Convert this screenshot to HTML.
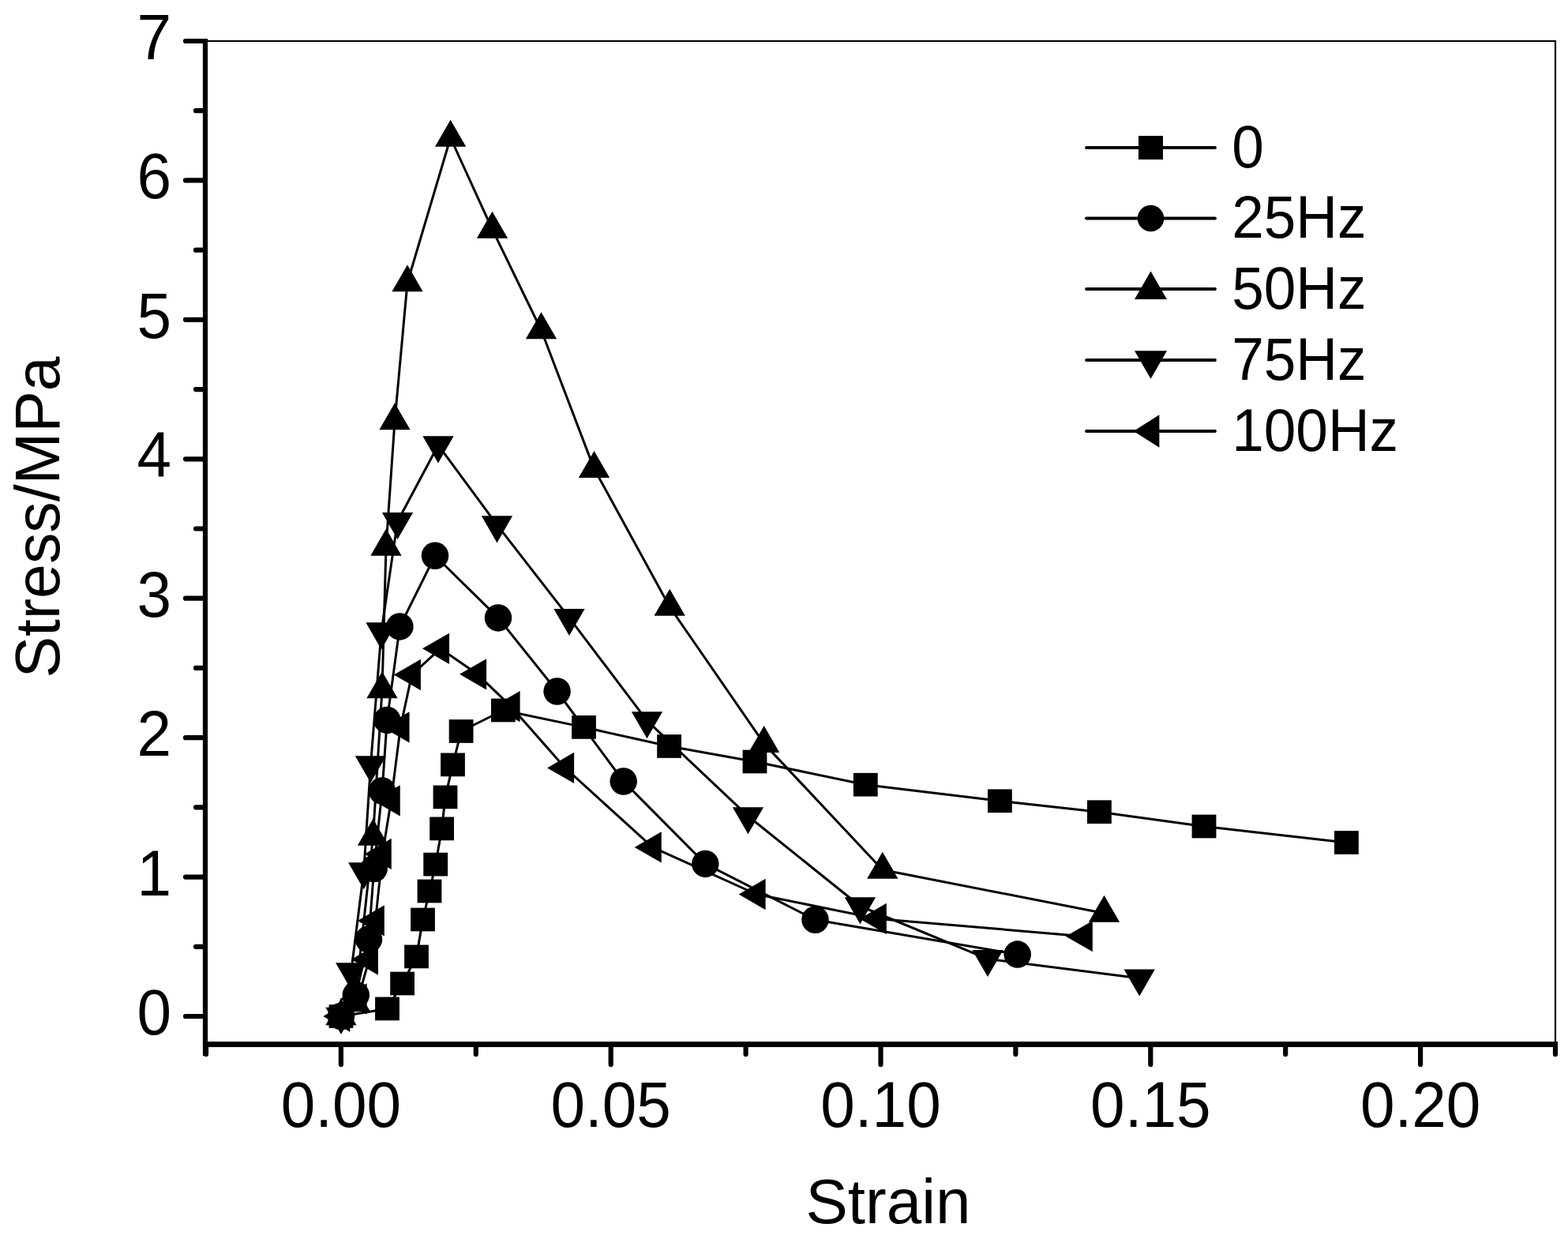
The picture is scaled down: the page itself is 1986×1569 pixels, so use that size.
<!DOCTYPE html>
<html><head><meta charset="utf-8"><title>Stress-Strain</title>
<style>
html,body{margin:0;padding:0;background:#fff;}
body{width:1986px;height:1569px;overflow:hidden;}
svg{display:block;}
text{font-family:"Liberation Sans",Arial,Helvetica,sans-serif;fill:#000;}
.t{font-size:81px;}
.t .s{font-size:80px;}
.l{font-size:76px;}
</style></head>
<body>
<svg width="1986" height="1569" viewBox="0 0 1986 1569">
<rect x="0" y="0" width="1986" height="1569" fill="#fff"/>
<path d="M260 52H1970V1322.5" fill="none" stroke="#000" stroke-width="2.2"/>
<path d="M235 1287H260 M235 1110.57H260 M235 934.14H260 M235 757.71H260 M235 581.29H260 M235 404.86H260 M235 228.43H260 M235 52H260 M248 1198.79H260 M248 1022.36H260 M248 845.93H260 M248 669.5H260 M248 493.07H260 M248 316.64H260 M248 140.21H260 M431.9 1322.5V1348 M773.7 1322.5V1348 M1115.5 1322.5V1348 M1457.3 1322.5V1348 M1799.1 1322.5V1348 M261 1322.5V1335 M602.8 1322.5V1335 M944.6 1322.5V1335 M1286.4 1322.5V1335 M1628.2 1322.5V1335 M1970 1322.5V1335" fill="none" stroke="#000" stroke-width="6.2" stroke-linecap="round"/>
<path d="M260 49V1337M257 1322.5H1973" fill="none" stroke="#000" stroke-width="6.2"/>
<path d="M257 1322.5H1973" fill="none" stroke="#000" stroke-width="7"/>
<path d="M432 1287 L490.5 1277.4 L509.6 1245.5 L527.5 1211.4 L535.5 1164.5 L544 1128.5 L551.7 1094.6 L559.6 1049.4 L564 1009.4 L573.5 968.4 L584.1 926 L637.4 899.5 L739.5 920.9 L847.6 945 L956 964.5 L1096.3 993.7 L1266.4 1014.3 L1392.4 1028.2 L1525 1046.5 L1705.4 1067" fill="none" stroke="#000" stroke-width="3" stroke-linejoin="round"/>
<path d="M432 1287 L450.8 1260 L467 1189.5 L473.7 1100 L484 1001.5 L490.3 911.9 L506.4 793.4 L551 703.7 L631 782.4 L705.6 875.5 L789.7 989.5 L893.3 1093.9 L1032.5 1164.7 L1288.7 1208.6" fill="none" stroke="#000" stroke-width="3" stroke-linejoin="round"/>
<path d="M432 1287 L449.5 1270 L472.5 1059.4 L484 873 L489 692.3 L500 533 L516 358 L570.6 174.5 L623.5 290.4 L685.5 418 L752.5 593.6 L848.2 768.5 L967.7 941.6 L1117.8 1101.5 L1398.5 1156.5" fill="none" stroke="#000" stroke-width="3" stroke-linejoin="round"/>
<path d="M432 1287 L444.75 1230.5 L460.75 1103.5 L469.5 968.5 L483 799.7 L503.5 660.4 L555 563.7 L629.5 664.7 L721 782.4 L819.5 912.6 L947.5 1033.5 L1089.5 1147.5 L1251 1214.4 L1443.2 1238.8" fill="none" stroke="#000" stroke-width="3" stroke-linejoin="round"/>
<path d="M432 1287 L453.3 1264.9 L467.6 1215 L475.5 1165.9 L484.4 1081.4 L495.4 1013.8 L507.2 920.9 L521.6 854.5 L557.7 821.3 L604.8 853.8 L647.3 894.7 L715.8 972.4 L826.4 1072.9 L958.3 1132.5 L1111.5 1163.4 L1372.5 1185.7" fill="none" stroke="#000" stroke-width="3" stroke-linejoin="round"/>
<g><rect x="416.6" y="1272.15" width="30.8" height="29.7"/><rect x="475.1" y="1262.55" width="30.8" height="29.7"/><rect x="494.2" y="1230.65" width="30.8" height="29.7"/><rect x="512.1" y="1196.55" width="30.8" height="29.7"/><rect x="520.1" y="1149.65" width="30.8" height="29.7"/><rect x="528.6" y="1113.65" width="30.8" height="29.7"/><rect x="536.3" y="1079.75" width="30.8" height="29.7"/><rect x="544.2" y="1034.55" width="30.8" height="29.7"/><rect x="548.6" y="994.55" width="30.8" height="29.7"/><rect x="558.1" y="953.55" width="30.8" height="29.7"/><rect x="568.7" y="911.15" width="30.8" height="29.7"/><rect x="622" y="884.65" width="30.8" height="29.7"/><rect x="724.1" y="906.05" width="30.8" height="29.7"/><rect x="832.2" y="930.15" width="30.8" height="29.7"/><rect x="940.6" y="949.65" width="30.8" height="29.7"/><rect x="1080.9" y="978.85" width="30.8" height="29.7"/><rect x="1251" y="999.45" width="30.8" height="29.7"/><rect x="1377" y="1013.35" width="30.8" height="29.7"/><rect x="1509.6" y="1031.65" width="30.8" height="29.7"/><rect x="1690" y="1052.15" width="30.8" height="29.7"/></g>
<g><circle cx="432" cy="1287" r="17.25"/><circle cx="450.8" cy="1260" r="17.25"/><circle cx="467" cy="1189.5" r="17.25"/><circle cx="473.7" cy="1100" r="17.25"/><circle cx="484" cy="1001.5" r="17.25"/><circle cx="490.3" cy="911.9" r="17.25"/><circle cx="506.4" cy="793.4" r="17.25"/><circle cx="551" cy="703.7" r="17.25"/><circle cx="631" cy="782.4" r="17.25"/><circle cx="705.6" cy="875.5" r="17.25"/><circle cx="789.7" cy="989.5" r="17.25"/><circle cx="893.3" cy="1093.9" r="17.25"/><circle cx="1032.5" cy="1164.7" r="17.25"/><circle cx="1288.7" cy="1208.6" r="17.25"/></g>
<g><polygon points="432,1264.31 451.65,1298.34 412.35,1298.34"/><polygon points="449.5,1247.31 469.15,1281.34 429.85,1281.34"/><polygon points="472.5,1036.71 492.15,1070.74 452.85,1070.74"/><polygon points="484,850.31 503.65,884.34 464.35,884.34"/><polygon points="489,669.61 508.65,703.64 469.35,703.64"/><polygon points="500,510.31 519.65,544.34 480.35,544.34"/><polygon points="516,335.31 535.65,369.34 496.35,369.34"/><polygon points="570.6,151.81 590.25,185.84 550.95,185.84"/><polygon points="623.5,267.71 643.15,301.74 603.85,301.74"/><polygon points="685.5,395.31 705.15,429.34 665.85,429.34"/><polygon points="752.5,570.91 772.15,604.94 732.85,604.94"/><polygon points="848.2,745.81 867.85,779.84 828.55,779.84"/><polygon points="967.7,918.91 987.35,952.94 948.05,952.94"/><polygon points="1117.8,1078.81 1137.45,1112.84 1098.15,1112.84"/><polygon points="1398.5,1133.81 1418.15,1167.84 1378.85,1167.84"/></g>
<g><polygon points="432,1309.69 451.65,1275.66 412.35,1275.66"/><polygon points="444.75,1253.19 464.4,1219.16 425.1,1219.16"/><polygon points="460.75,1126.19 480.4,1092.16 441.1,1092.16"/><polygon points="469.5,991.19 489.15,957.16 449.85,957.16"/><polygon points="483,822.39 502.65,788.36 463.35,788.36"/><polygon points="503.5,683.09 523.15,649.06 483.85,649.06"/><polygon points="555,586.39 574.65,552.36 535.35,552.36"/><polygon points="629.5,687.39 649.15,653.36 609.85,653.36"/><polygon points="721,805.09 740.65,771.06 701.35,771.06"/><polygon points="819.5,935.29 839.15,901.26 799.85,901.26"/><polygon points="947.5,1056.19 967.15,1022.16 927.85,1022.16"/><polygon points="1089.5,1170.19 1109.15,1136.16 1069.85,1136.16"/><polygon points="1251,1237.09 1270.65,1203.06 1231.35,1203.06"/><polygon points="1443.2,1261.49 1462.85,1227.46 1423.55,1227.46"/></g>
<g><polygon points="409.31,1287 443.34,1267.35 443.34,1306.65"/><polygon points="430.61,1264.9 464.64,1245.25 464.64,1284.55"/><polygon points="444.91,1215 478.94,1195.35 478.94,1234.65"/><polygon points="452.81,1165.9 486.84,1146.25 486.84,1185.55"/><polygon points="461.71,1081.4 495.74,1061.75 495.74,1101.05"/><polygon points="472.71,1013.8 506.74,994.15 506.74,1033.45"/><polygon points="484.51,920.9 518.54,901.25 518.54,940.55"/><polygon points="498.91,854.5 532.94,834.85 532.94,874.15"/><polygon points="535.01,821.3 569.04,801.65 569.04,840.95"/><polygon points="582.11,853.8 616.14,834.15 616.14,873.45"/><polygon points="624.61,894.7 658.64,875.05 658.64,914.35"/><polygon points="693.11,972.4 727.14,952.75 727.14,992.05"/><polygon points="803.71,1072.9 837.74,1053.25 837.74,1092.55"/><polygon points="935.61,1132.5 969.64,1112.85 969.64,1152.15"/><polygon points="1088.81,1163.4 1122.84,1143.75 1122.84,1183.05"/><polygon points="1349.81,1185.7 1383.84,1166.05 1383.84,1205.35"/></g>
<path d="M1376 187H1539" stroke="#000" stroke-width="3.8" stroke-linecap="round"/>
<rect x="1442" y="172" width="31" height="30"/>
<path d="M1376 276.5H1539" stroke="#000" stroke-width="3.8" stroke-linecap="round"/>
<circle cx="1457.5" cy="276.5" r="16.75"/>
<path d="M1376 366H1539" stroke="#000" stroke-width="3.8" stroke-linecap="round"/>
<polygon points="1457.5,343.43 1478,378.94 1437,378.94"/>
<path d="M1376 456H1539" stroke="#000" stroke-width="3.8" stroke-linecap="round"/>
<polygon points="1457.5,479.67 1478,444.16 1437,444.16"/>
<path d="M1376 546H1539" stroke="#000" stroke-width="3.8" stroke-linecap="round"/>
<polygon points="1435.7,546 1468.4,525.35 1468.4,566.65"/>
<g class="t">
<text transform="translate(217 1310) scale(0.967 1)" text-anchor="end">0</text>
<text transform="translate(217 1133.57) scale(0.967 1)" text-anchor="end">1</text>
<text transform="translate(217 957.14) scale(0.967 1)" text-anchor="end">2</text>
<text transform="translate(217 780.71) scale(0.967 1)" text-anchor="end">3</text>
<text transform="translate(217 604.29) scale(0.967 1)" text-anchor="end">4</text>
<text transform="translate(217 427.86) scale(0.967 1)" text-anchor="end">5</text>
<text transform="translate(217 251.43) scale(0.967 1)" text-anchor="end">6</text>
<text transform="translate(217 75) scale(0.967 1)" text-anchor="end">7</text>
<text transform="translate(431.9 1427) scale(0.967 1)" text-anchor="middle">0.00</text>
<text transform="translate(773.7 1427) scale(0.967 1)" text-anchor="middle">0.05</text>
<text transform="translate(1115.5 1427) scale(0.967 1)" text-anchor="middle">0.10</text>
<text transform="translate(1457.3 1427) scale(0.967 1)" text-anchor="middle">0.15</text>
<text transform="translate(1799.1 1427) scale(0.967 1)" text-anchor="middle">0.20</text>
<text class="s" x="1125" y="1549" text-anchor="middle">Strain</text>
<text class="s" transform="translate(74.5 655) rotate(-90) scale(0.985 1)" text-anchor="middle">Stress/MPa</text>
</g>
<g class="l">
<text transform="translate(1560.2 211.5) scale(0.96 1)">0</text>
<text transform="translate(1560.2 301) scale(0.96 1)">25Hz</text>
<text transform="translate(1560.2 390.5) scale(0.96 1)">50Hz</text>
<text transform="translate(1560.2 480.5) scale(0.96 1)">75Hz</text>
<text transform="translate(1560.2 570.5) scale(0.96 1)">100Hz</text>
</g>
</svg>
</body></html>
